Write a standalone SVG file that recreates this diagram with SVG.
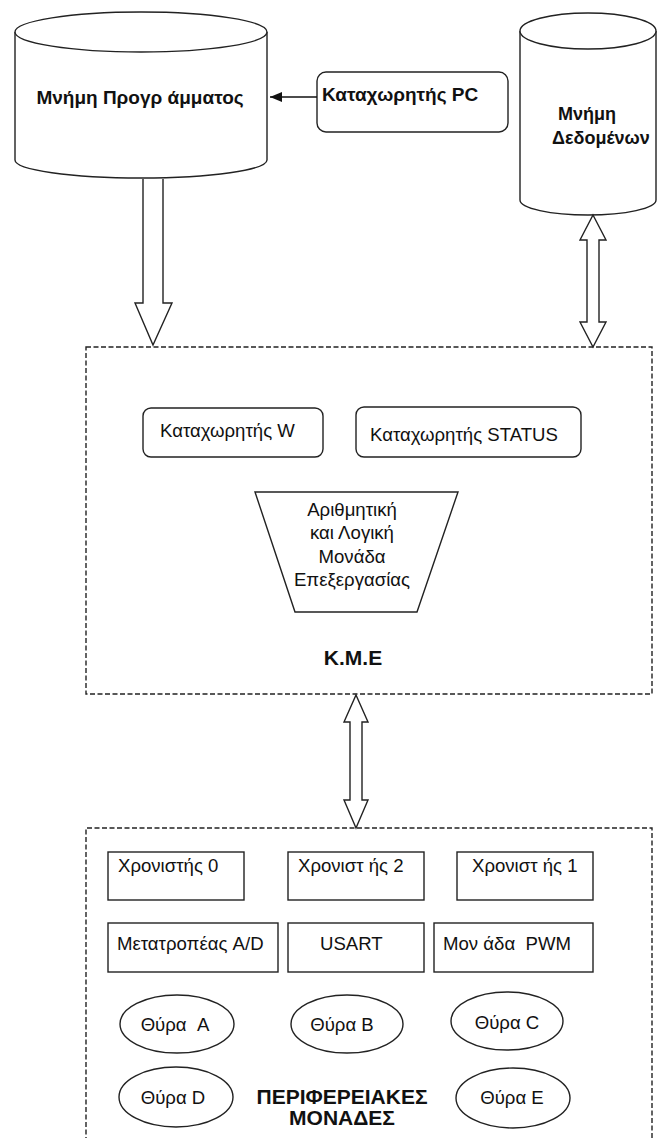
<svg xmlns="http://www.w3.org/2000/svg" width="659" height="1138" viewBox="0 0 659 1138">
<style>
  .s{fill:#fff;stroke:#222;stroke-width:1.4}
  .d{fill:none;stroke:#222;stroke-width:1.4;stroke-dasharray:5 2.5}
  .t{font-family:"Liberation Sans",Arial,sans-serif;font-size:18.6px;fill:#111;white-space:pre}
  .b{font-family:"Liberation Sans",Arial,sans-serif;font-size:19px;font-weight:bold;fill:#111}
  .bb{font-family:"Liberation Sans",Arial,sans-serif;font-size:21px;font-weight:bold;fill:#111}
  .m{text-anchor:middle}
</style>
<defs>
  <marker id="ah" markerWidth="12" markerHeight="10" refX="12" refY="5" orient="auto" markerUnits="userSpaceOnUse">
    <path d="M0,0 L12,5 L0,10 Z" fill="#111"/>
  </marker>
</defs>
<rect width="659" height="1138" fill="#fff"/>

<g id="kme">
  <rect class="d" x="86" y="347" width="566" height="347"/>
  <text class="bb m" x="353" y="665">K.M.E</text>
</g>
<g id="peripherals">
  <path class="d" d="M86,1142 V828 H652 V1142"/>
  <text class="bb m" x="342" y="1104">ΠΕΡΙΦΕΡΕΙΑΚΕΣ</text>
  <text class="bb m" x="342" y="1125">ΜΟΝΑΔΕΣ</text>
</g>

<g id="program-memory">
  <path class="s" d="M15,32 L15,160 A126,18 0 0 0 267,160 L267,32"/>
  <ellipse class="s" cx="141" cy="32" rx="126" ry="20"/>
  <text class="b m" x="140" y="104">Μνήμη Προγρ άμματος</text>
</g>
<g id="pc-register">
  <rect class="s" x="317" y="72" width="191" height="60" rx="9"/>
  <text class="b" x="322" y="101">Καταχωρητής PC</text>
</g>
<g id="data-memory">
  <path class="s" d="M520,31 L520,200 A68,15 0 0 0 656,200 L656,31"/>
  <ellipse class="s" cx="588" cy="31" rx="68" ry="18"/>
  <text class="b" x="558" y="120" style="font-size:18px">Μνήμη</text>
  <text class="b" x="552" y="144" style="font-size:18px">Δεδομένων</text>
</g>
<g id="w-register">
  <rect class="s" x="143" y="408" width="180" height="49" rx="8"/>
  <text class="t" x="160" y="437">Καταχωρητής W</text>
</g>
<g id="status-register">
  <rect class="s" x="356" y="407" width="225" height="50" rx="8"/>
  <text class="t" x="370" y="441">Καταχωρητής STATUS</text>
</g>
<g id="alu">
  <polygon class="s" points="255,492 458,492 417,612 295,612"/>
  <text class="t m" x="352" y="516">Αριθμητική</text>
  <text class="t m" x="352" y="539">και Λογική</text>
  <text class="t m" x="352" y="563">Μονάδα</text>
  <text class="t m" x="352" y="586">Επεξεργασίας</text>
</g>

<g id="timer0"><rect class="s" x="108" y="852" width="136" height="48"/><text class="t" x="118" y="872">Χρονιστής 0</text></g>
<g id="timer2"><rect class="s" x="288" y="852" width="136" height="48"/><text class="t" x="298" y="872">Χρονιστ ής 2</text></g>
<g id="timer1"><rect class="s" x="457" y="852" width="136" height="48"/><text class="t" x="472" y="872">Χρονιστ ής 1</text></g>
<g id="adc"><rect class="s" x="108" y="923" width="170" height="49"/><text class="t" x="117" y="950">Μετατροπέας A/D</text></g>
<g id="usart"><rect class="s" x="288" y="923" width="136" height="49"/><text class="t" x="320" y="950">USART</text></g>
<g id="pwm"><rect class="s" x="434" y="923" width="159" height="49"/><text class="t" x="443" y="950">Μον άδα  PWM</text></g>

<g id="portA"><ellipse class="s" cx="177" cy="1024" rx="57" ry="29"/><text class="t m" x="175" y="1031">Θύρα  A</text></g>
<g id="portB"><ellipse class="s" cx="347" cy="1024" rx="56" ry="29"/><text class="t m" x="342" y="1031">Θύρα B</text></g>
<g id="portC"><ellipse class="s" cx="507" cy="1021" rx="56" ry="29"/><text class="t m" x="507" y="1029">Θύρα C</text></g>
<g id="portD"><ellipse class="s" cx="176" cy="1097" rx="57" ry="30"/><text class="t m" x="173" y="1104">Θύρα D</text></g>
<g id="portE"><ellipse class="s" cx="513" cy="1098" rx="57" ry="30"/><text class="t m" x="512" y="1104">Θύρα E</text></g>

<g id="connectors">
  <line x1="317" y1="97" x2="270" y2="97" stroke="#111" stroke-width="1.4" marker-end="url(#ah)"/>
  <path class="s" d="M143,179 V303 H135 L153,345 L172,303 H163 V179"/>
  <polygon class="s" points="593,215 606,240 599,240 599,322 606,322 593,347 580,322 587,322 587,240 580,240"/>
  <polygon class="s" points="356,695 368,722 362,722 362,800 368,800 356,828 344,800 350,800 350,722 344,722"/>
</g>
</svg>
